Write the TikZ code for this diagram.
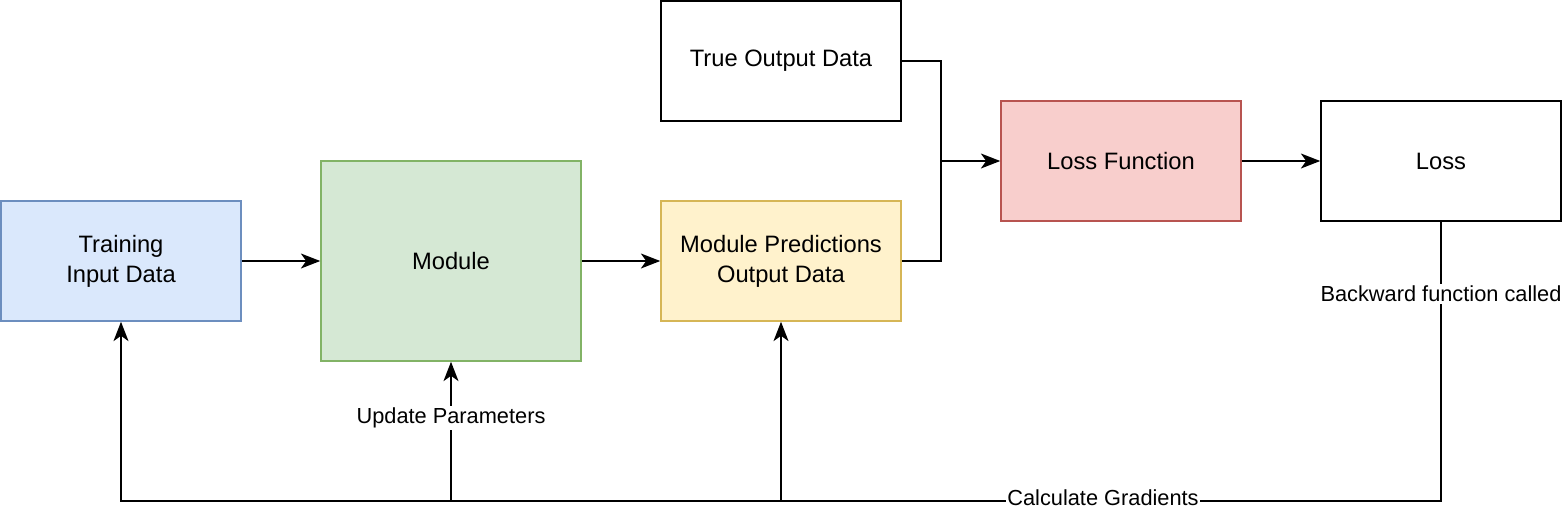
\documentclass[tikz,border=0pt]{standalone}
\usepackage{fontspec}
\setmainfont{Liberation Sans}
\usetikzlibrary{arrows.meta}
\definecolor{bfill}{HTML}{DAE8FC}\definecolor{bdraw}{HTML}{6C8EBF}
\definecolor{gfill}{HTML}{D5E8D4}\definecolor{gdraw}{HTML}{82B366}
\definecolor{yfill}{HTML}{FFF2CC}\definecolor{ydraw}{HTML}{D6B656}
\definecolor{rfill}{HTML}{F8CECC}\definecolor{rdraw}{HTML}{B85450}
\tikzset{
  box/.style={draw, line width=0.85pt, minimum width=240*0.02cm, minimum height=120*0.02cm, inner sep=0pt, align=center, font=\fontsize{13.5}{17}\selectfont},
  conn/.style={line width=1.15pt},
  arr/.style={conn, -{Stealth[length=11pt, width=8.5pt, inset=3pt]}},
  lbl/.style={fill=white, inner sep=1pt, font=\fontsize{12.4}{15}\selectfont}
}
\begin{document}
\begin{tikzpicture}[x=0.02cm, y=-0.02cm]
\useasboundingbox (0,0) rectangle (1564,518);
\node[box, fill=bfill, draw=bdraw] (train) at (121,261) {Training\\Input Data};
\node[box, fill=gfill, draw=gdraw, minimum width=260*0.02cm, minimum height=200*0.02cm] (module) at (451,261) {Module};
\node[box, fill=yfill, draw=ydraw] (pred) at (781,261) {Module Predictions\\Output Data};
\node[box, fill=white] (true) at (781,61) {True Output Data};
\node[box, fill=rfill, draw=rdraw] (lossfn) at (1121,161) {Loss Function};
\node[box, fill=white] (loss) at (1441,161) {Loss};
\coordinate (j) at (941,161);
\coordinate (c1) at (1441,501);
\coordinate (c2) at (121,501);
\coordinate (b1) at (451,501);
\coordinate (b2) at (781,501);
\draw[arr] (train) -- (module);
\draw[arr] (module) -- (pred);
\draw[conn] (pred.east) -| (j);
\draw[conn] (true.east) -| (j);
\draw[arr] (j) -- (lossfn.west);
\draw[arr] (lossfn) -- (loss);
\draw[arr] (loss.south) -- (c1) -- (c2) -- (train.south);
\draw[arr] (b1) -- (module.south);
\draw[arr] (b2) -- (pred.south);
\node[lbl] (l1) at (1441,294) {Backward function called};
\node[lbl] (l2) at (451,418) {Update Parameters};
\node[lbl, inner sep=0.5pt] (l3) at (1103,498) {Calculate Gradients};
\end{tikzpicture}
\end{document}
